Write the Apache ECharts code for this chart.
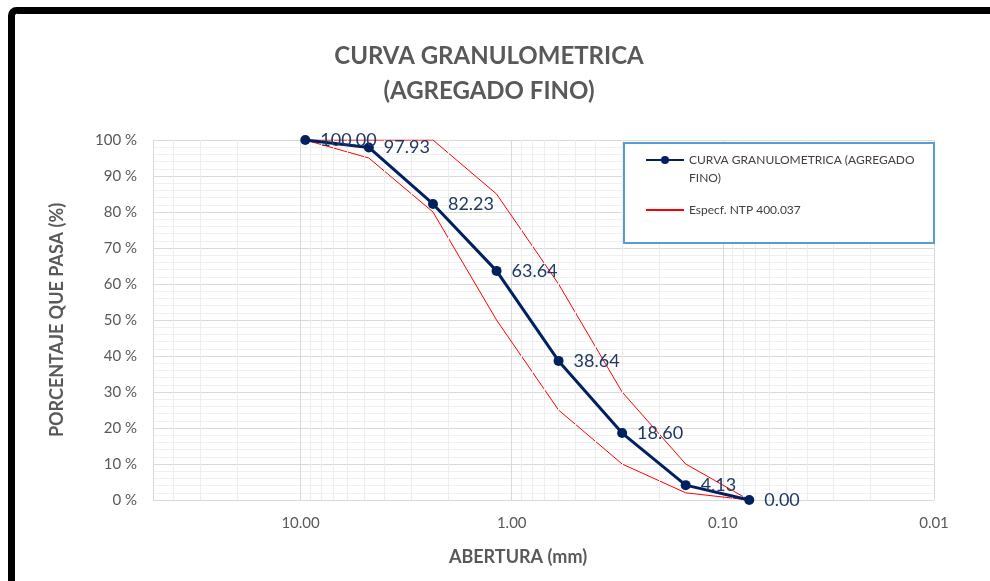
<!DOCTYPE html>
<html>
<head>
<meta charset="utf-8">
<script src="https://cdn.jsdelivr.net/npm/echarts@6/dist/echarts.min.js"></script>
<style>
  html, body { margin: 0; padding: 0; background: #fff; }
  #chart { width: 990px; height: 581px; }
</style>
</head>
<body>
<div id="chart"></div>
<script>
// aberturas de tamices (mm)
const aberturas = [9.5, 4.75, 2.36, 1.18, 0.6, 0.3, 0.15, 0.075]
// % que pasa
const pasa = [100.0, 97.93, 82.23, 63.64, 38.64, 18.6, 4.13, 0.0]
// especificacion NTP 400.037
const especSup = [100, 100, 100, 85, 60, 30, 10, 0]
const especInf = [100, 95, 80, 50, 25, 10, 2, 0]
// lineas de division menores del eje log
const divMenores = [40, 30, 20, 9, 8, 7, 6, 5, 4, 3, 2, 0.9, 0.8, 0.7, 0.6, 0.5, 0.4, 0.3, 0.2,
  0.09, 0.08, 0.07, 0.06, 0.05, 0.04, 0.03, 0.02]

const nombreCurva = 'CURVA GRANULOMETRICA (AGREGADO FINO)'
const nombreEspec = 'Especf. NTP 400.037'
const fuente = 'Lato, "Open Sans", sans-serif'
const gris = '#595959'

const chart = echarts.init(document.getElementById('chart'))

const zip = (xs, ys) => xs.map((x, i) => [x, ys[i]])

const option = {
  backgroundColor: '#fff',
  textStyle: { fontFamily: fuente },
  title: [
    {
      text: 'CURVA GRANULOMETRICA\n(AGREGADO FINO)',
      left: 484,
      top: 34,
      textAlign: 'center',
      textStyle: { fontSize: 24, fontWeight: 'bold', color: gris, lineHeight: 35, fontFamily: fuente }
    },
    {
      text: 'ABERTURA (mm)',
      left: 513,
      top: 543,
      textAlign: 'center',
      textStyle: { fontSize: 18, fontWeight: 'bold', color: gris, fontFamily: fuente }
    }
  ],
  graphic: [
    {
      type: 'rect',
      shape: { x: 11.5, y: 10.5, width: 1000, height: 600, r: 5 },
      style: { fill: 'none', stroke: '#000', lineWidth: 7 },
      silent: true
    },
    {
      type: 'rect',
      shape: { x: 624, y: 143, width: 310, height: 100 },
      style: { fill: '#fff', stroke: '#5B9BD5', lineWidth: 2 },
      z: 10,
      silent: true
    }
  ],
  legend: {
    left: 645,
    top: 133,
    padding: 0,
    orient: 'vertical',
    itemWidth: 38,
    itemHeight: 10,
    itemGap: 14,
    z: 20,
    textStyle: { fontSize: 12, color: '#404040', fontFamily: fuente, lineHeight: 18 },
    formatter: function (name) {
      if (name === nombreCurva) return '\nCURVA GRANULOMETRICA (AGREGADO\nFINO)'
      return name
    },
    data: [
      { name: nombreCurva },
      { name: nombreEspec, itemStyle: { opacity: 0 } }
    ]
  },
  grid: { left: 153, right: 56, top: 140, bottom: 81 },
  xAxis: {
    type: 'log',
    logBase: 10,
    min: 0.01,
    max: 50,
    inverse: true,
    axisLine: { show: false },
    axisTick: { show: false },
    axisLabel: {
      fontSize: 15,
      color: gris,
      margin: 16,
      formatter: function (v) {
        const l = Math.log10(v)
        if (Math.abs(l - Math.round(l)) > 1e-6) return ''
        return v.toFixed(2)
      }
    },
    splitLine: { show: true, lineStyle: { color: '#D9D9D9', width: 1 } }
  },
  yAxis: {
    type: 'value',
    min: 0,
    max: 100,
    interval: 10,
    name: 'PORCENTAJE QUE PASA (%)',
    nameLocation: 'middle',
    nameGap: 87,
    nameTextStyle: { fontSize: 18, fontWeight: 'bold', color: gris, fontFamily: fuente },
    axisLine: { show: true, lineStyle: { color: '#D9D9D9' } },
    axisTick: { show: false },
    axisLabel: { fontSize: 15, color: gris, margin: 16, formatter: '{value} %' },
    splitLine: { show: true, lineStyle: { color: '#D9D9D9', width: 1 } },
    minorTick: { show: false, splitNumber: 5 },
    minorSplitLine: { show: true, lineStyle: { color: '#F0F0F0', width: 1 } }
  },
  series: [
    {
      name: 'div',
      type: 'line',
      data: [],
      silent: true,
      z: 1,
      markLine: {
        silent: true,
        symbol: 'none',
        label: { show: false },
        lineStyle: { color: '#EDEDED', type: 'solid', width: 1 },
        data: divMenores.map(v => ({ xAxis: v }))
      }
    },
    {
      name: nombreEspec,
      type: 'line',
      data: zip(aberturas, especSup),
      symbol: 'none',
      lineStyle: { color: '#FF0000', width: 1 },
      itemStyle: { color: '#FF0000' },
      z: 3
    },
    {
      name: nombreEspec,
      type: 'line',
      data: zip(aberturas, especInf),
      symbol: 'none',
      lineStyle: { color: '#FF0000', width: 1 },
      itemStyle: { color: '#FF0000' },
      z: 3
    },
    {
      name: nombreCurva,
      type: 'line',
      data: zip(aberturas, pasa),
      symbol: 'circle',
      symbolSize: 10,
      lineStyle: { color: '#002060', width: 3 },
      itemStyle: { color: '#002060' },
      z: 5,
      label: {
        show: true,
        position: 'right',
        distance: 10,
        fontSize: 18,
        color: '#1F3864',
        fontFamily: fuente,
        formatter: p => p.value[1].toFixed(2)
      }
    }
  ]
}

chart.setOption(option)
</script>
</body>
</html>
